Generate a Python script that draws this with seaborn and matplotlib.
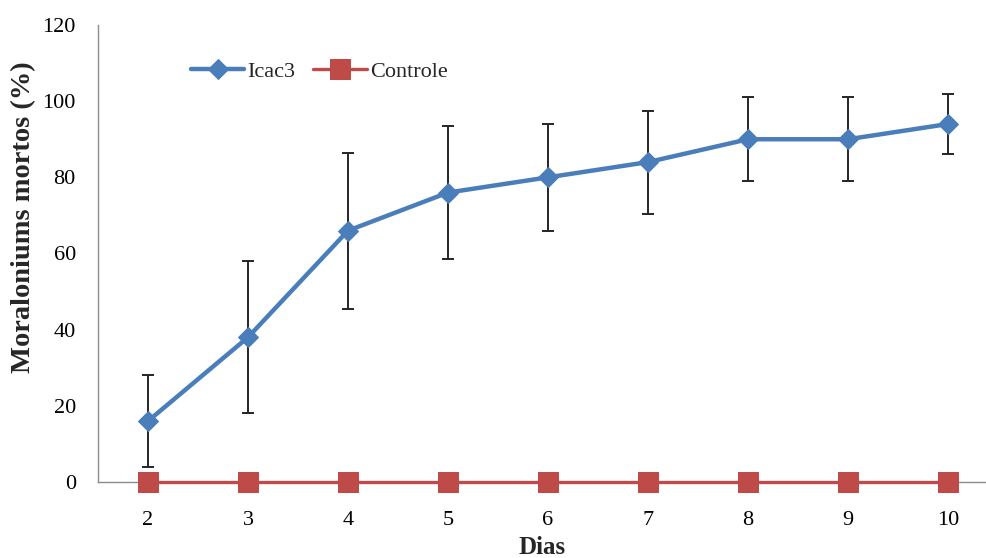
import numpy as np
import pandas as pd
import matplotlib
matplotlib.use("Agg")
import matplotlib.pyplot as plt
import seaborn as sns

dias = [2, 3, 4, 5, 6, 7, 8, 9, 10]
icac3 = [16, 38, 66, 76, 80, 84, 90, 90, 94]
icac3_err = [12, 20, 20.5, 17.5, 14, 13.5, 11, 11, 8]
controle = [0, 0, 0, 0, 0, 0, 0, 0, 0]
yticks = [0, 20, 40, 60, 80, 100, 120]

sns.set_theme(style="white")
plt.rcParams['font.family'] = ['Liberation Serif', 'DejaVu Serif']

fig = plt.figure(figsize=(9.87, 5.58), dpi=100)
ax = fig.add_axes([98/987, 76/558, (987-98)/987, (482-25)/558])

ax.errorbar(dias, icac3, yerr=icac3_err, fmt='none', ecolor='#262626',
            elinewidth=1.4, capsize=4, capthick=1.4, zorder=2)

blue = '#4A7EBB'
red = '#BE4B48'
sns.lineplot(x=dias, y=icac3, ax=ax, color=blue, linewidth=3.2, marker='D',
             markersize=10.5, markeredgecolor=blue, label='Icac3', zorder=3)
sns.lineplot(x=dias, y=controle, ax=ax, color=red, linewidth=2.4, marker='s',
             markersize=15, markeredgecolor=red, label='Controle', zorder=4,
             clip_on=False)

ax.set_xlim(1.5, 1.5 + (987 - 98) / 100)
ax.set_ylim(0, 120)
ax.set_yticks(yticks)
ax.set_xticks(dias)
ax.set_xticklabels([str(d) for d in dias])
ax.set_yticklabels([str(v) for v in yticks])
ax.tick_params(axis='both', length=0, labelsize=16, colors='black')
ax.tick_params(axis='y', pad=16)
ax.tick_params(axis='x', pad=21)

for s in ['top', 'right']:
    ax.spines[s].set_visible(False)
for s in ['left', 'bottom']:
    ax.spines[s].set_color('#8c8c8c')
    ax.spines[s].set_linewidth(1.0)

ax.set_ylabel('Moraloniums mortos (%)', fontsize=20.5, fontweight='bold')
ax.yaxis.set_label_coords((36 - 98) / 889, (482 - 217) / 457)
ax.set_xlabel('Dias', fontsize=18, fontweight='bold', labelpad=4)

leg = ax.legend(loc='upper left', bbox_to_anchor=(0.082, 0.965), ncol=2,
                frameon=False, fontsize=16, handlelength=2.4,
                handletextpad=0.15, columnspacing=0.8)

fig.savefig('out.png', dpi=100)
